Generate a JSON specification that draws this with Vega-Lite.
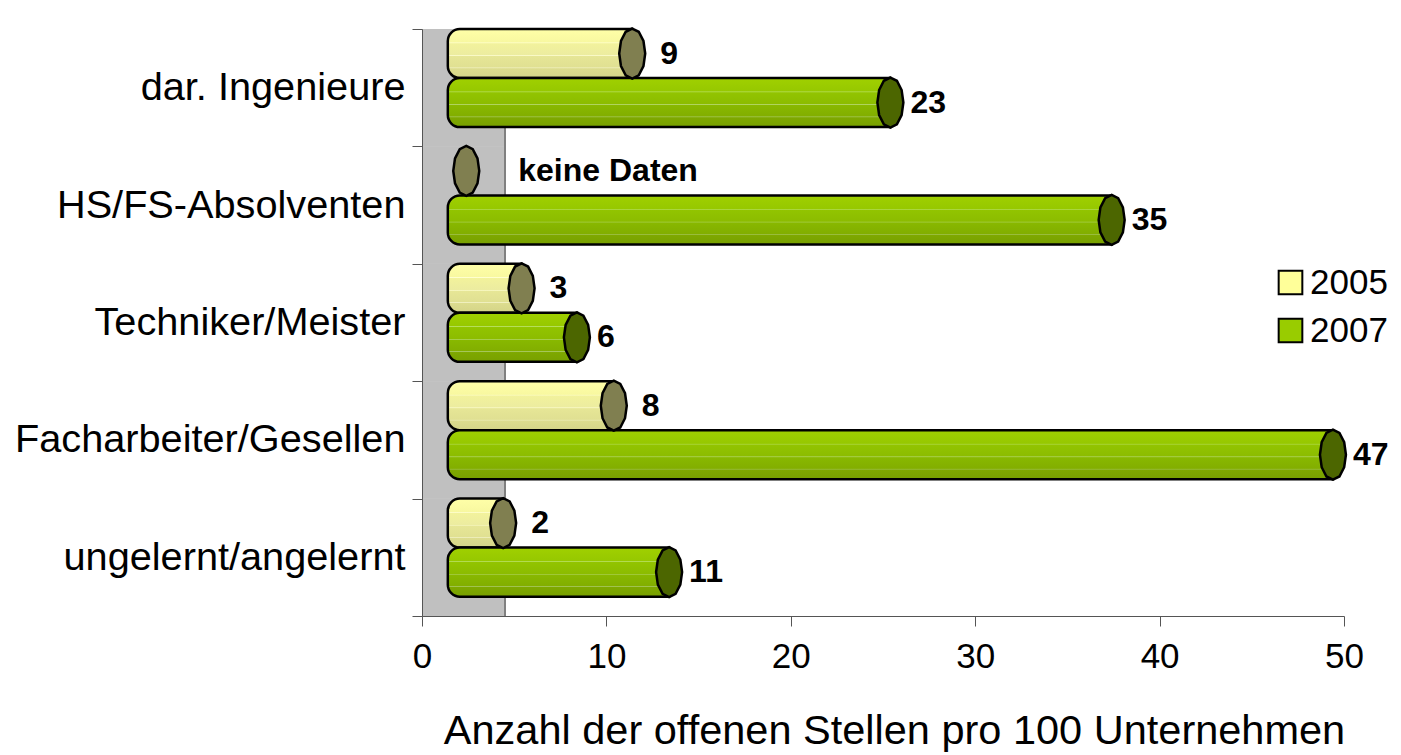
{
  "$schema": "https://vega.github.io/schema/vega-lite/v6.json",
  "width": 922,
  "height": 587,
  "autosize": {"type": "none"},
  "padding": {"left": 422, "top": 29, "right": 57, "bottom": 139},
  "config": {"font": "Liberation Sans", "view": {"stroke": null}},
  "data": {
    "values": [
      {"cat": "dar. Ingenieure", "year": "2005", "value": 9, "note": null},
      {"cat": "dar. Ingenieure", "year": "2007", "value": 23, "note": null},
      {"cat": "HS/FS-Absolventen", "year": "2005", "value": null, "note": "keine Daten"},
      {"cat": "HS/FS-Absolventen", "year": "2007", "value": 35, "note": null},
      {"cat": "Techniker/Meister", "year": "2005", "value": 3, "note": null},
      {"cat": "Techniker/Meister", "year": "2007", "value": 6, "note": null},
      {"cat": "Facharbeiter/Gesellen", "year": "2005", "value": 8, "note": null},
      {"cat": "Facharbeiter/Gesellen", "year": "2007", "value": 47, "note": null},
      {"cat": "ungelernt/angelernt", "year": "2005", "value": 2, "note": null},
      {"cat": "ungelernt/angelernt", "year": "2007", "value": 11, "note": null}
    ]
  },
  "resolve": {"scale": {"x": "independent", "y": "independent"}},
  "layer": [
    {
      "layer": [
        {
          "mark": {"type": "rect", "color": "#c0c0c0"},
          "encoding": {
            "x": {
              "datum": 0,
              "type": "quantitative",
              "scale": {"domain": [0, 50], "nice": false},
              "axis": {
                "title": "Anzahl der offenen Stellen pro 100 Unternehmen",
                "values": [0, 10, 20, 30, 40, 50],
                "grid": false,
                "tickSize": 10,
                "tickColor": "#555555",
                "domainColor": "#555555",
                "labelFontSize": 35,
                "labelColor": "black",
                "labelPadding": 13,
                "labelFlush": false,
                "titleFontSize": 41.5,
                "titleFontWeight": "normal",
                "titleColor": "black",
                "titlePadding": 36,
                "titleX": 472
              }
            },
            "x2": {"datum": 4.5},
            "y": {
              "field": "cat",
              "type": "nominal",
              "sort": ["dar. Ingenieure", "HS/FS-Absolventen", "Techniker/Meister", "Facharbeiter/Gesellen", "ungelernt/angelernt"],
              "scale": {"paddingInner": 0, "paddingOuter": 0},
              "axis": {
                "title": null,
                "tickBand": "extent",
                "tickSize": 10,
                "tickColor": "#555555",
                "domainColor": "#555555",
                "labelFontSize": 39.7,
                "labelColor": "black",
                "labelPadding": 7,
                "labelLimit": 0
              }
            }
          }
        },
        {
          "mark": {"type": "rule", "color": "#808080", "strokeWidth": 1},
          "encoding": {"x": {"datum": 4.5, "type": "quantitative"}}
        }
      ]
    },
    {
      "encoding": {
        "y": {
          "field": "cat",
          "type": "nominal",
          "sort": ["dar. Ingenieure", "HS/FS-Absolventen", "Techniker/Meister", "Facharbeiter/Gesellen", "ungelernt/angelernt"],
          "scale": {"paddingInner": 0.165, "paddingOuter": 0.0825, "align": 0},
          "axis": null
        },
        "yOffset": {"field": "year", "type": "nominal", "scale": {"paddingInner": 0, "paddingOuter": 0}}
      },
      "layer": [
        {
          "transform": [{"filter": "datum.year == '2005' && isValid(datum.value)"}],
          "mark": {
            "type": "bar",
            "stroke": "black",
            "strokeWidth": 2.5,
            "cornerRadiusTopLeft": 12,
            "cornerRadiusBottomLeft": 12,
            "fill": {
              "gradient": "linear", "x1": 0, "y1": 0, "x2": 0, "y2": 1,
              "stops": [
                {"offset": 0, "color": "#ffffa8"},
                {"offset": 0.27, "color": "#f8f8a0"},
                {"offset": 0.28, "color": "#ffffd0"},
                {"offset": 0.3, "color": "#f2f29c"},
                {"offset": 0.53, "color": "#ececa0"},
                {"offset": 0.54, "color": "#fafac8"},
                {"offset": 0.56, "color": "#e6e696"},
                {"offset": 0.78, "color": "#e0e092"},
                {"offset": 0.79, "color": "#f0f0c0"},
                {"offset": 0.81, "color": "#dcdc8e"},
                {"offset": 1, "color": "#d4d488"}
              ]
            }
          },
          "encoding": {
            "x": {
              "field": "value",
              "type": "quantitative",
              "scale": {"domain": [-2.4, 47.6], "nice": false, "zero": false},
              "axis": null
            },
            "x2": {"datum": -1}
          }
        },
        {
          "transform": [{"filter": "datum.year == '2007' && isValid(datum.value)"}],
          "mark": {
            "type": "bar",
            "stroke": "black",
            "strokeWidth": 2.5,
            "cornerRadiusTopLeft": 12,
            "cornerRadiusBottomLeft": 12,
            "fill": {
              "gradient": "linear", "x1": 0, "y1": 0, "x2": 0, "y2": 1,
              "stops": [
                {"offset": 0, "color": "#a0d000"},
                {"offset": 0.27, "color": "#96c800"},
                {"offset": 0.28, "color": "#b8e060"},
                {"offset": 0.3, "color": "#92c400"},
                {"offset": 0.53, "color": "#8cbc00"},
                {"offset": 0.54, "color": "#b0d460"},
                {"offset": 0.56, "color": "#88b800"},
                {"offset": 0.78, "color": "#82ae00"},
                {"offset": 0.79, "color": "#a8c860"},
                {"offset": 0.81, "color": "#7ea800"},
                {"offset": 1, "color": "#78a000"}
              ]
            }
          },
          "encoding": {
            "x": {"field": "value", "type": "quantitative"},
            "x2": {"datum": -1}
          }
        },
        {
          "transform": [{"filter": "isValid(datum.value)"}],
          "mark": {
            "type": "point",
            "shape": "M0,-1 L0.26,-0.87 L0.45,-0.5 L0.52,0 L0.45,0.5 L0.26,0.87 L0,1 L-0.26,0.87 L-0.45,0.5 L-0.52,0 L-0.45,-0.5 L-0.26,-0.87 Z",
            "size": 2500,
            "filled": true,
            "opacity": 1,
            "stroke": "black",
            "strokeWidth": 2.5
          },
          "encoding": {
            "x": {"field": "value", "type": "quantitative"},
            "fill": {"condition": {"test": "datum.year == '2005'", "value": "#807f50"}, "value": "#4c6600"}
          }
        },
        {
          "transform": [{"filter": "!isValid(datum.value)"}],
          "mark": {
            "type": "point",
            "shape": "M0,-1 L0.26,-0.87 L0.45,-0.5 L0.52,0 L0.45,0.5 L0.26,0.87 L0,1 L-0.26,0.87 L-0.45,0.5 L-0.52,0 L-0.45,-0.5 L-0.26,-0.87 Z",
            "size": 2500,
            "filled": true,
            "opacity": 1,
            "fill": "#807f50",
            "stroke": "black",
            "strokeWidth": 2.5
          },
          "encoding": {
            "x": {"datum": 0, "type": "quantitative"}
          }
        },
        {
          "transform": [{"filter": "datum.year == '2005' && isValid(datum.value)"}],
          "mark": {"type": "text", "align": "left", "baseline": "middle", "dx": 28, "fontSize": 32, "fontWeight": "bold", "color": "black"},
          "encoding": {
            "x": {"field": "value", "type": "quantitative"},
            "text": {"field": "value", "type": "quantitative"}
          }
        },
        {
          "transform": [{"filter": "datum.year == '2007' && isValid(datum.value)"}],
          "mark": {"type": "text", "align": "left", "baseline": "middle", "dx": 20, "fontSize": 32, "fontWeight": "bold", "color": "black"},
          "encoding": {
            "x": {"field": "value", "type": "quantitative"},
            "text": {"field": "value", "type": "quantitative"}
          }
        },
        {
          "transform": [{"filter": "!isValid(datum.value)"}],
          "mark": {"type": "text", "align": "left", "baseline": "middle", "dx": 52, "fontSize": 32, "fontWeight": "bold", "color": "black"},
          "encoding": {
            "x": {"datum": 0, "type": "quantitative"},
            "text": {"field": "note", "type": "nominal"}
          }
        },
        {
          "mark": {"type": "text", "text": ""},
          "encoding": {
            "color": {
              "field": "year",
              "type": "nominal",
              "scale": {"range": ["#ffff99", "#99cc00"]},
              "legend": {
                "title": null,
                "orient": "none",
                "legendX": 851,
                "legendY": 236,
                "symbolType": "square",
                "symbolSize": 560,
                "symbolStrokeColor": "black",
                "symbolStrokeWidth": 2,
                "symbolOpacity": 1,
                "labelFontSize": 35,
                "labelColor": "black",
                "labelOffset": 2,
                "rowPadding": 12
              }
            }
          }
        }
      ]
    }
  ]
}
